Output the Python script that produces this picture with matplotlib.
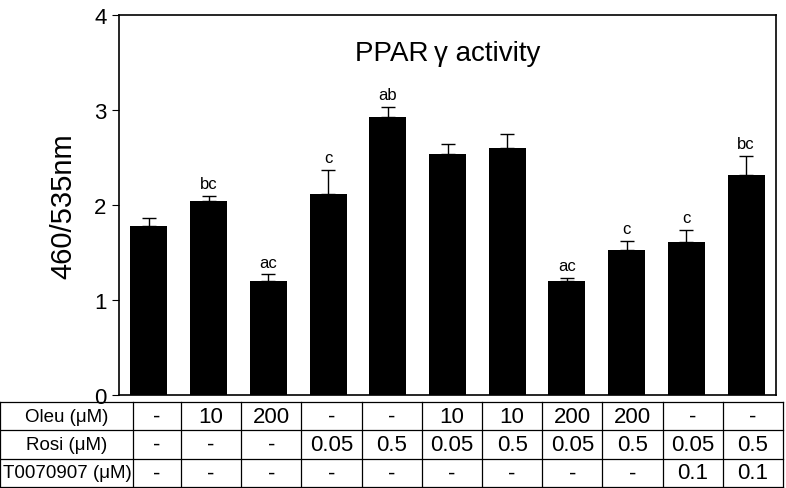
import numpy as np
import matplotlib.pyplot as plt

plt.rcParams['font.family'] = ['Liberation Sans', 'DejaVu Sans']

values = [1.78, 2.04, 1.20, 2.12, 2.93, 2.54, 2.60, 1.20, 1.53, 1.61, 2.32]
errors = [0.08, 0.06, 0.07, 0.25, 0.10, 0.10, 0.15, 0.03, 0.09, 0.13, 0.20]
letters = ['', 'bc', 'ac', 'c', 'ab', '', '', 'ac', 'c', 'c', 'bc']

row_names = ['Oleu (\u03bcM)', 'Rosi (\u03bcM)', 'T0070907 (\u03bcM)']
oleu = ['-', '10', '200', '-', '-', '10', '10', '200', '200', '-', '-']
rosi = ['-', '-', '-', '0.05', '0.5', '0.05', '0.5', '0.05', '0.5', '0.05', '0.5']
t007 = ['-', '-', '-', '-', '-', '-', '-', '-', '-', '0.1', '0.1']

W, H = 786, 489
fig = plt.figure(figsize=(W / 100, H / 100), dpi=100)
ax = fig.add_axes([119 / W, (H - 396) / H, (776 - 119) / W, (396 - 16) / H])

x = np.arange(len(values))
ax.bar(x, values, width=0.62, color='black', zorder=2)
ax.errorbar(x, values, yerr=[np.zeros(len(values)), errors], fmt='none',
            ecolor='black', elinewidth=1, capsize=5, capthick=1, zorder=1)
for i in range(len(values)):
    if letters[i]:
        ax.text(x[i], values[i] + errors[i] + 0.05, letters[i], ha='center',
                va='bottom', fontsize=12)

ax.set_xlim(-0.5, 10.5)
ax.set_ylim(0, 4)
ax.set_yticks([0, 1, 2, 3, 4])
ax.set_xticks([])
ax.tick_params(axis='y', direction='out', length=5, labelsize=16, pad=4)
ax.set_ylabel('460/535nm', fontsize=21, labelpad=12)
ax.text(0.5, 0.9, 'PPAR\u2009\u03b3 activity', transform=ax.transAxes,
        ha='center', va='center', fontsize=20)
for s in ax.spines.values():
    s.set_linewidth(1.2)

# table below the bars
tab = fig.add_axes([0, (H - 488) / H, 783 / W, (488 - 403) / H])
tab.set_xlim(0, 783)
tab.set_ylim(0, 3)
tab.axis('off')
edges = [0, 133] + [181 + 60.2 * k for k in range(11)]
for e in edges:
    tab.plot([e, e], [0, 3], color='black', lw=0.9, clip_on=False)
for r in range(4):
    tab.plot([0, 783], [r, r], color='black', lw=0.9, clip_on=False)
rows = [oleu, rosi, t007]
for r, (name, cells) in enumerate(zip(row_names, rows)):
    yc = 2.5 - r
    tab.text(67, yc, name, ha='center', va='center', fontsize=13.5)
    for c, txt in enumerate(cells):
        xc = (edges[c + 1] + edges[c + 2]) / 2
        tab.text(xc, yc, txt, ha='center', va='center', fontsize=16)

fig.savefig('out.png', dpi=100)
